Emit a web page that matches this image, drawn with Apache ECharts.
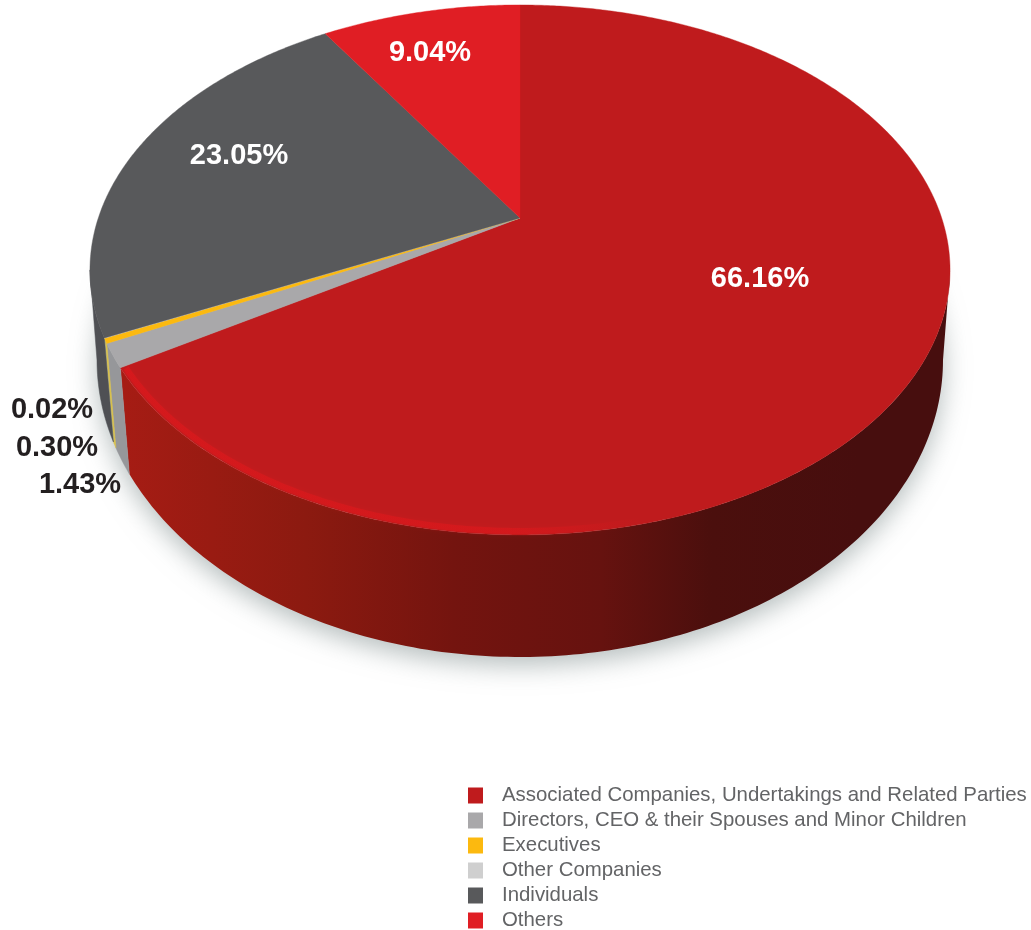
<!DOCTYPE html>
<html>
<head>
<meta charset="utf-8">
<style>html,body{margin:0;padding:0;background:#fff}#chart{width:1031px;height:930px}</style>
<script src="https://cdn.jsdelivr.net/npm/echarts@6/dist/echarts.min.js"></script>
</head>
<body>
<div id="chart"></div>
<script>
const categories = ['Associated Companies, Undertakings and Related Parties','Directors, CEO & their Spouses and Minor Children','Executives','Other Companies','Individuals','Others'];
const shares = [66.16, 1.43, 0.30, 0.02, 23.05, 9.04];
const faceColors = ['#bf1b1d','#a9a8aa','#fcb90f','#cfcfcf','#58595b','#e01e24'];
const wallColors = ['#8f1a10','#96979a','#d8c04a','#c8c8a0','#4f5054','#e01e24'];
const labelColors = ['#ffffff','#231f20','#231f20','#231f20','#ffffff','#ffffff'];
const labelAnchors = [[760,279],[80,485],[57,448],[52,410],[239,156],[430,53]];

const total = shares.reduce((a,b)=>a+b,0);
const TOP = {cx:520, apexY:218, a:421.7, b:254.8, k:0.196};
const BASE = {cx:520, cy:360, rx:423, ry:297};
const VANISH = {x:520, y:5100};
const WALL_FROM = 101.3, WALL_TO = 258.7;

function rimPoint(deg, rho){
  const t = deg*Math.PI/180, r = rho===undefined?1:rho;
  const u = r*Math.sin(t), v = r*Math.cos(t), w = 1+TOP.k*v;
  return [TOP.cx+TOP.a*u/w, TOP.apexY-TOP.b*v/w];
}
function basePhi(p){
  const dx=VANISH.x-p[0], dy=VANISH.y-p[1];
  const ox=(p[0]-BASE.cx)/BASE.rx, oy=(p[1]-BASE.cy)/BASE.ry;
  const ex=dx/BASE.rx, ey=dy/BASE.ry;
  const A=ex*ex+ey*ey, B=2*(ox*ex+oy*ey), C=ox*ox+oy*oy-1;
  const d=B*B-4*A*C;
  const t=(-B+Math.sqrt(Math.max(d,0)))/(2*A);
  const q=[p[0]+dx*t, p[1]+dy*t];
  return Math.atan2((q[0]-BASE.cx)/BASE.rx,(q[1]-BASE.cy)/BASE.ry)*180/Math.PI;
}
function baseArc(from,to){
  const n=Math.max(2,Math.ceil(Math.abs(to-from))+1), pts=[];
  for(let i=0;i<n;i++){
    const t=(from+(to-from)*i/(n-1))*Math.PI/180;
    pts.push([BASE.cx+BASE.rx*Math.sin(t),BASE.cy+BASE.ry*Math.cos(t)]);
  }
  return pts;
}
function arc(from,to,rho){
  const n=Math.max(2,Math.ceil(Math.abs(to-from)/0.5)+1), pts=[];
  for(let i=0;i<n;i++) pts.push(rimPoint(from+(to-from)*i/(n-1),rho));
  return pts;
}
function startOf(i){
  return shares.slice(0,i).reduce((a,b)=>a+b,0)/total*360;
}
const redWall = {type:'linear',x:120,y:0,x2:860,y2:0,global:true,colorStops:[
  {offset:0,color:'#a61c14'},{offset:0.25,color:'#8c1a10'},{offset:0.45,color:'#74140f'},
  {offset:0.65,color:'#66120f'},{offset:0.8,color:'#4b0f0d'},{offset:1,color:'#470e0e'}]};
const rimGlow = {type:'linear',x:120,y:0,x2:640,y2:0,global:true,colorStops:[
  {offset:0,color:'rgba(226,24,28,0.55)'},{offset:0.75,color:'rgba(222,24,28,0.6)'},{offset:1,color:'rgba(222,24,28,0)'}]};

function sliceRenderer(i){
  return function(params,api){
    const start=startOf(i), end=start+api.value(0)/total*360;
    const children=[];
    const wf=Math.max(start,WALL_FROM), wt=Math.min(end,WALL_TO);
    if(wt>wf){
      const topEdge=arc(wf,wt);
      const phiEnd=wt===WALL_TO?-90:basePhi(rimPoint(wt));
      const phiStart=wf===WALL_FROM?90:basePhi(rimPoint(wf));
      children.push({type:'polygon',z2:1,shape:{points:topEdge.concat(baseArc(phiEnd,phiStart))},
        style:{fill:i===0?redWall:wallColors[i],stroke:i===0?null:wallColors[i],lineWidth:0.5}});
    }
    const face=[[TOP.cx,TOP.apexY]].concat(arc(start,end));
    children.push({type:'polygon',z2:2,shape:{points:face},
      style:{fill:faceColors[i],stroke:faceColors[i],lineWidth:0.4}});
    if(i===0){
      children.push({type:'polyline',z2:3,shape:{points:arc(165,end-0.4,0.99)},
        style:{stroke:rimGlow,lineWidth:6,fill:null,shadowBlur:5,shadowColor:'rgba(222,24,28,0.4)'}});
    }
    const at=labelAnchors[i];
    children.push({type:'text',z2:5,x:at[0],y:at[1],style:{
      text:api.value(0).toFixed(2)+'%',fill:labelColors[i],
      font:'bold 29px "Liberation Sans", Arial, sans-serif',align:'center',verticalAlign:'middle'}});
    return {type:'group',children};
  };
}
function renderShadow(){
  return {type:'polygon',shape:{points:baseArc(0,358)},
    style:{fill:'#cfd6d6',shadowBlur:26,shadowOffsetY:8,shadowColor:'rgba(120,135,135,0.55)'}};
}
const series=[{type:'custom',name:'shadow',coordinateSystem:'none',silent:true,z:1,data:[total],renderItem:renderShadow}];
categories.forEach((name,i)=>{
  series.push({type:'custom',name,coordinateSystem:'none',z:2,silent:true,
    itemStyle:{color:faceColors[i]},data:[shares[i]],renderItem:sliceRenderer(i)});
});
const chart=echarts.init(document.getElementById('chart'),null,{renderer:'canvas'});
chart.setOption({
  animation:false,
  backgroundColor:'#ffffff',
  tooltip:{show:false},
  legend:{
    data:categories.map(name=>({name,icon:'rect'})),
    orient:'vertical',left:468,top:783,padding:0,height:170,
    itemWidth:15,itemHeight:16,itemGap:0,selectedMode:false,
    textStyle:{color:'#636466',fontSize:20.4,fontFamily:'"Liberation Sans", Arial, sans-serif',lineHeight:17,padding:[0,0,8,14]}
  },
  series
});
</script>
</body>
</html>
